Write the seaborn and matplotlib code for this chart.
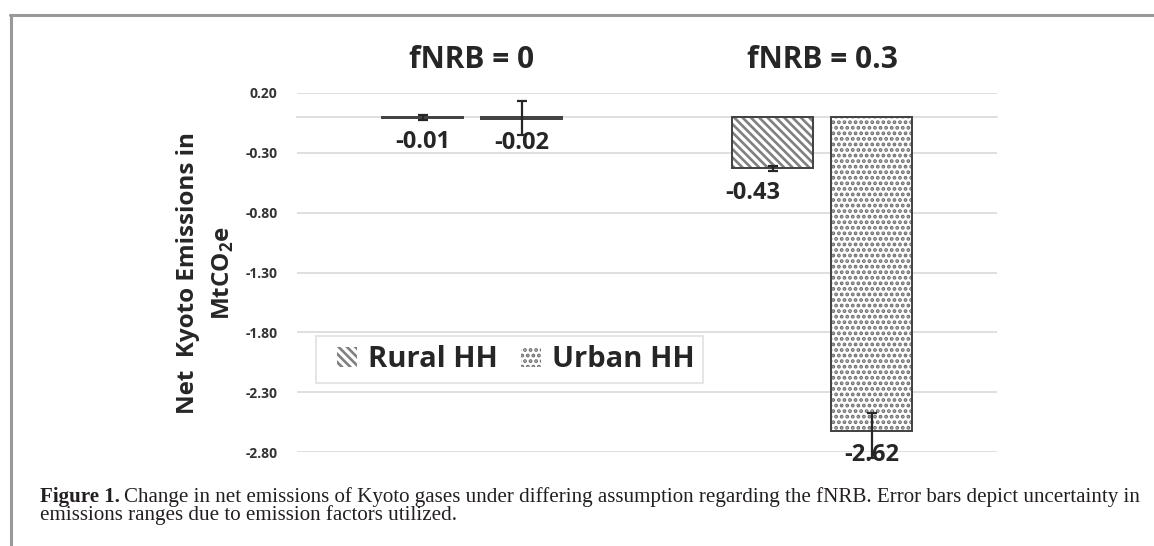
import numpy as np
import pandas as pd
import matplotlib.pyplot as plt
import seaborn as sns
from matplotlib.patches import Patch, Rectangle
from matplotlib.lines import Line2D
from matplotlib.legend_handler import HandlerPatch

scenarios = ['fNRB = 0', 'fNRB = 0.3']
households = ['Rural HH', 'Urban HH']
rural = [-0.01, -0.43]
urban = [-0.02, -2.62]
# error bar extents (below, above)
rural_err_lo = [0.02, 0.02]
rural_err_hi = [0.02, 0.02]
urban_err_lo = [0.135, 0.23]
urban_err_hi = [0.15, 0.15]
yticks = [0.20, -0.30, -0.80, -1.30, -1.80, -2.30, -2.80]

df = pd.DataFrame({
    'scenario': scenarios * 2,
    'household': [households[0]] * 2 + [households[1]] * 2,
    'value': rural + urban,
    'err_lo': rural_err_lo + urban_err_lo,
    'err_hi': rural_err_hi + urban_err_hi,
})

sns.set_theme(style='white')
plt.rcParams['font.family'] = ['Open Sans', 'DejaVu Sans']
plt.rcParams['mathtext.fontset'] = 'custom'
plt.rcParams['mathtext.rm'] = 'Open Sans:bold'
plt.rcParams['mathtext.bf'] = 'Open Sans:bold'
plt.rcParams['hatch.linewidth'] = 1.9

dark = '#262626'
hatch_grays = ['#808080', '#707070']
grid_gray = '#d9d9d9'
hatches = ['\\\\\\\\', '...']

fig = plt.figure(figsize=(11.54, 5.46), dpi=100)
ax = fig.add_axes([0.2574, 0.1716, 0.6066, 0.6586])

sns.barplot(data=df, x='scenario', y='value', hue='household',
            order=scenarios, hue_order=households, width=0.566, gap=0.19,
            errorbar=None, legend=False, palette=['white', 'white'],
            linewidth=0, ax=ax)

bar_groups = list(ax.containers)
for i, cont in enumerate(bar_groups):
    sub = df[df['household'] == households[i]]
    for bar, (_, row) in zip(cont.patches, sub.iterrows()):
        bar.set_edgecolor(hatch_grays[i])
        bar.set_linewidth(0)
        bar.set_hatch(hatches[i])
        ax.add_patch(Rectangle(bar.get_xy(), bar.get_width(), bar.get_height(),
                               fill=False, ec='#404040', lw=1.4, zorder=3))
        cx = bar.get_x() + bar.get_width() / 2
        ax.errorbar(cx, row['value'], yerr=[[row['err_lo']], [row['err_hi']]],
                    fmt='none', ecolor=dark, elinewidth=1.6, capsize=3.5,
                    capthick=1.6, zorder=5, clip_on=False)
        dx = -20 if (i == 0 and row['scenario'] == scenarios[1]) else 0
        ax.annotate(f"{row['value']:.2f}", (cx, row['value']),
                    xytext=(dx * 0.72, -17.5), textcoords='offset points',
                    ha='center', va='center', fontsize=17, fontweight='bold',
                    color=dark, zorder=4)

ax.set_ylim(-2.8, 0.2)
ax.set_xlim(-0.5, 1.5)
ax.set_yticks(yticks, labels=[f'{v:.2f}' for v in yticks])
ax.yaxis.grid(True, color=grid_gray, lw=1.2)
ax.set_axisbelow(True)
ax.tick_params(axis='y', length=0, pad=14, labelsize=10, labelcolor='#333333')
for lab in ax.get_yticklabels():
    lab.set_fontweight('bold')

ax.set_xticks([-0.5, 0.5, 1.5], labels=['', '', ''])
ax.tick_params(axis='x', direction='inout', length=16, width=1.2, color=grid_gray)
ax.set_xlabel('')
for s in ['top', 'left', 'right']:
    ax.spines[s].set_visible(False)
ax.spines['bottom'].set_position(('data', 0))
ax.spines['bottom'].set_color(grid_gray)
ax.spines['bottom'].set_linewidth(1.2)

top = ax.secondary_xaxis('top')
top.set_xticks([0, 1], labels=scenarios)
top.tick_params(length=0, pad=13, labelsize=21.5)
for lab in top.get_xticklabels():
    lab.set_fontweight('bold')
    lab.set_color(dark)
top.spines['top'].set_visible(False)

ax.set_ylabel('Net  Kyoto Emissions in\nMtCO$_2$e', fontsize=17.5,
              fontweight='bold', color=dark, labelpad=7, linespacing=1.55)


def square_right(legend, orig_handle, xdescent, ydescent, width, height, fontsize):
    side = height
    return Rectangle((width - xdescent - side, -ydescent), side, side)


handles = [Patch(facecolor='white', edgecolor=c, lw=0, hatch=h)
           for h, c in zip(hatches, hatch_grays)]
leg = ax.legend(handles, households, loc='lower left', ncol=2,
                bbox_to_anchor=(0.027, 0.193), borderaxespad=0,
                prop={'weight': 'bold', 'size': 21}, frameon=True,
                fancybox=False, edgecolor=grid_gray, handlelength=1.1,
                handleheight=0.68, handletextpad=0.38, columnspacing=0.38,
                borderpad=0.3,
                handler_map={Patch: HandlerPatch(patch_func=square_right)})
leg.get_frame().set_linewidth(1.2)
for t in leg.get_texts():
    t.set_color(dark)

fig.add_artist(Line2D([0.009, 1.0], [1 - 15 / 546] * 2, color='#999999', lw=2.2))
fig.add_artist(Line2D([11 / 1154] * 2, [0, 1 - 15 / 546], color='#999999', lw=2.2))

cap_font = ['Liberation Serif', 'DejaVu Serif']
cap_size = 15.1
cap_x = 40 / 1154
y1 = 1 - 502 / 546
y2 = 1 - 520 / 546
bold = fig.text(cap_x, y1, 'Figure 1.', family=cap_font, fontweight='bold',
                fontsize=cap_size, color='#231f20', va='baseline')
fig.canvas.draw()
bb = bold.get_window_extent().transformed(fig.transFigure.inverted())
fig.text(bb.x1 + 4 / 1154, y1,
         'Change in net emissions of Kyoto gases under differing assumption '
         'regarding the fNRB. Error bars depict uncertainty in',
         family=cap_font, fontsize=cap_size, color='#231f20', va='baseline')
fig.text(cap_x, y2, 'emissions ranges due to emission factors utilized.',
         family=cap_font, fontsize=cap_size, color='#231f20', va='baseline')

fig.savefig('out.png', dpi=100)
